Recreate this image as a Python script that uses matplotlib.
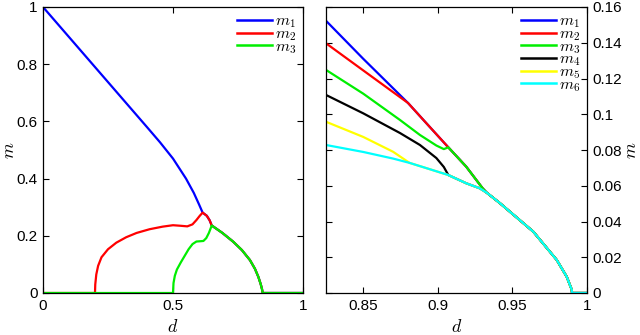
import numpy as np
import matplotlib.pyplot as plt

plt.rcParams['font.family'] = ['Liberation Sans', 'DejaVu Sans']
plt.rcParams['mathtext.fontset'] = 'cm'

# ---- left panel data (d in [0,1]) ----
# m1 head, until it meets m2
L_m1_d = [0.0, 0.1, 0.2, 0.3, 0.4, 0.45, 0.5, 0.55, 0.58, 0.60, 0.614]
L_m1_m = [1.0, 0.895, 0.79, 0.685, 0.58, 0.527, 0.47, 0.40, 0.35, 0.31, 0.281]
# m2 head
L_m2_d = [0.0, 0.2, 0.201, 0.205, 0.212, 0.225, 0.25, 0.282, 0.32, 0.36, 0.41,
          0.46, 0.5, 0.53, 0.555, 0.575, 0.59, 0.603, 0.614]
L_m2_m = [0.0, 0.0, 0.03, 0.065, 0.095, 0.125, 0.153, 0.176, 0.195, 0.21, 0.223,
          0.232, 0.237, 0.235, 0.233, 0.24, 0.255, 0.27, 0.281]
# shared m1/m2 branch until it meets m3
L_m12_d = [0.614, 0.63, 0.641, 0.649]
L_m12_m = [0.281, 0.27, 0.254, 0.236]
# m3 head
L_m3_d = [0.0, 0.5, 0.502, 0.507, 0.515, 0.53, 0.545, 0.56, 0.575, 0.59, 0.605, 0.617,
          0.628, 0.638, 0.649]
L_m3_m = [0.0, 0.0, 0.035, 0.06, 0.082, 0.107, 0.13, 0.153, 0.171, 0.18, 0.181, 0.182,
          0.192, 0.21, 0.236]
# common tail
L_tail_d = [0.649, 0.69, 0.732, 0.765, 0.796, 0.815, 0.828, 0.837, 0.842, 0.845, 1.0]
L_tail_m = [0.236, 0.21, 0.179, 0.15, 0.115, 0.085, 0.057, 0.032, 0.015, 0.0, 0.0]

# ---- right panel data (zoom near d = 1) ----
R_m1_d = [0.825, 0.85, 0.880]
R_m1_m = [0.1523, 0.131, 0.1063]
R_m2_d = [0.825, 0.85, 0.880]
R_m2_m = [0.1397, 0.1245, 0.1063]
R_m12_d = [0.880, 0.8925, 0.907]
R_m12_m = [0.1063, 0.0948, 0.0815]
R_m3_d = [0.825, 0.85, 0.8746, 0.888, 0.899, 0.904, 0.907]
R_m3_m = [0.1248, 0.1115, 0.0968, 0.0884, 0.0825, 0.0805, 0.0815]
R_m13_d = [0.907, 0.919, 0.930, 0.9328]
R_m13_m = [0.0815, 0.0707, 0.0586, 0.0561]
R_m4_d = [0.825, 0.85, 0.8746, 0.888, 0.899, 0.904, 0.907]
R_m4_m = [0.1108, 0.1005, 0.0895, 0.0828, 0.0755, 0.0705, 0.066]
R_m5_d = [0.825, 0.85, 0.87, 0.881]
R_m5_m = [0.0958, 0.0873, 0.079, 0.0728]
R_m6_d = [0.825, 0.85, 0.87, 0.881]
R_m6_m = [0.0828, 0.0789, 0.0752, 0.0728]
R_m56_d = [0.881, 0.8925, 0.907]
R_m56_m = [0.0728, 0.0698, 0.066]
R_m46_d = [0.907, 0.919, 0.928, 0.9328]
R_m46_m = [0.066, 0.0614, 0.0586, 0.0561]
R_tail_d = [0.9328, 0.9417, 0.964, 0.9797, 0.9864, 0.9897, 0.990, 1.0]
R_tail_m = [0.0561, 0.0502, 0.0343, 0.0185, 0.0091, 0.002, 0.0, 0.0]

colors = ['#0000ff', '#ff0000', '#00ee00', '#000000', '#ffff00', '#00ffff']
labels = ['$m_%d$' % i for i in range(1, 7)]


def cat(*parts):
    return np.concatenate([np.asarray(p, dtype=float) for p in parts])


left = [
    (cat(L_m1_d, L_m12_d, L_tail_d), cat(L_m1_m, L_m12_m, L_tail_m)),
    (cat(L_m2_d, L_m12_d, L_tail_d), cat(L_m2_m, L_m12_m, L_tail_m)),
    (cat(L_m3_d, L_tail_d), cat(L_m3_m, L_tail_m)),
]
right = [
    (cat(R_m1_d, R_m12_d, R_m13_d, R_tail_d), cat(R_m1_m, R_m12_m, R_m13_m, R_tail_m)),
    (cat(R_m2_d, R_m12_d, R_m13_d, R_tail_d), cat(R_m2_m, R_m12_m, R_m13_m, R_tail_m)),
    (cat(R_m3_d, R_m13_d, R_tail_d), cat(R_m3_m, R_m13_m, R_tail_m)),
    (cat(R_m4_d, R_m46_d, R_tail_d), cat(R_m4_m, R_m46_m, R_tail_m)),
    (cat(R_m5_d, R_m56_d, R_m46_d, R_tail_d), cat(R_m5_m, R_m56_m, R_m46_m, R_tail_m)),
    (cat(R_m6_d, R_m56_d, R_m46_d, R_tail_d), cat(R_m6_m, R_m56_m, R_m46_m, R_tail_m)),
]

fig = plt.figure(figsize=(6.4, 3.35), dpi=100)
ax1 = fig.add_axes([43/640, 42/335, 260/640, 286/335])
ax2 = fig.add_axes([326/640, 42/335, 261/640, 286/335])

for i, (x, y) in enumerate(left):
    ax1.plot(x, y, color=colors[i], lw=1.6, label=labels[i])
for i, (x, y) in enumerate(right):
    ax2.plot(x, y, color=colors[i], lw=1.6, label=labels[i])

ax1.set_xlim(0, 1)
ax1.set_ylim(0, 1)
ax1.set_xticks([0, 0.5, 1])
ax1.set_xticklabels(['0', '0.5', '1'])
ax1.set_yticks([0, 0.2, 0.4, 0.6, 0.8, 1])
ax1.set_yticklabels(['0', '0.2', '0.4', '0.6', '0.8', '1'])

ax2.set_xlim(0.825, 1)
ax2.set_ylim(0, 0.16)
ax2.set_xticks([0.85, 0.9, 0.95, 1])
ax2.set_xticklabels(['0.85', '0.9', '0.95', '1'])
ax2.set_yticks(np.arange(0, 0.161, 0.02))
ax2.set_yticklabels(['0', '0.02', '0.04', '0.06', '0.08', '0.1', '0.12', '0.14', '0.16'])
ax2.yaxis.tick_right()
ax2.yaxis.set_label_position('right')

for ax in (ax1, ax2):
    ax.tick_params(direction='in', length=4, width=0.8, labelsize=11,
                   top=True, bottom=True, left=True, right=True, pad=4)
    for s in ax.spines.values():
        s.set_linewidth(0.9)
    ax.set_xlabel('$d$', fontsize=13)
    ax.xaxis.set_label_coords(0.5, -0.092)
    leg = ax.legend(loc='upper right', frameon=False, fontsize=11.5,
                    handlelength=2.2, handletextpad=0.2, labelspacing=-0.25,
                    borderaxespad=0.2, borderpad=0.2)
    for h in leg.get_lines():
        h.set_linewidth(1.8)

ax1.set_ylabel('$m$', fontsize=13)
ax1.yaxis.set_label_coords(-0.098, 0.5)
ax2.set_ylabel('$m$', fontsize=13, rotation=90)
ax2.yaxis.set_label_coords(1.138, 0.5)

fig.savefig('out.png', dpi=100)
